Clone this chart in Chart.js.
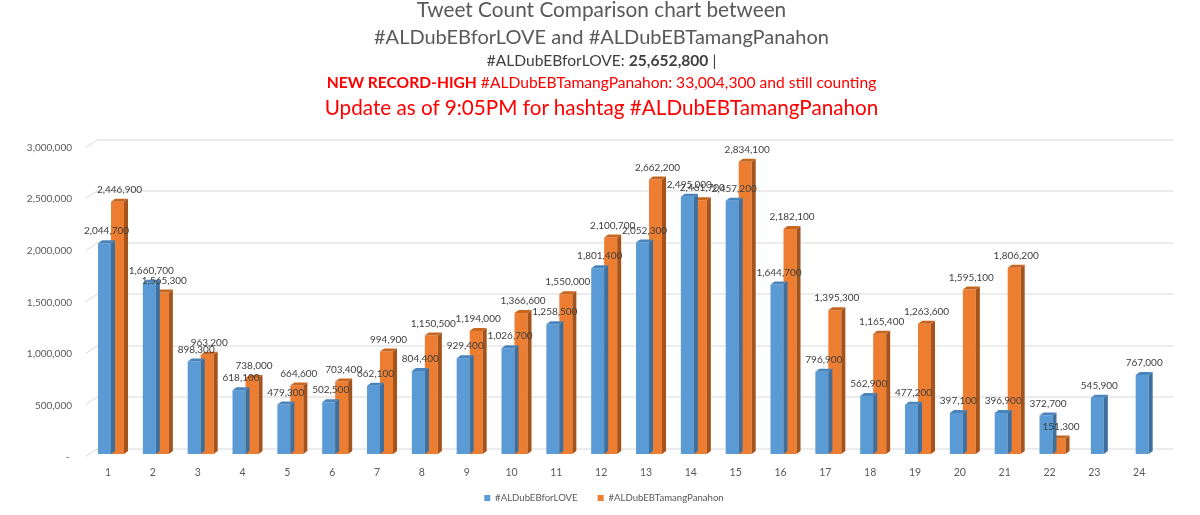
<!DOCTYPE html>
<html>
<head>
<meta charset="utf-8">
<script src="https://cdn.jsdelivr.net/npm/chart.js@4.4.1/dist/chart.umd.min.js"></script>
<style>
html,body{margin:0;padding:0;background:#fff;width:1200px;height:515px;overflow:hidden;}
#wrap{position:relative;width:1200px;height:515px;}
#c{position:absolute;left:0;top:0;width:1200px;height:515px;}
.h{position:absolute;left:0;width:1203px;text-align:center;font-family:Lato,"Open Sans",sans-serif;white-space:nowrap;line-height:1;}
</style>
</head>
<body>
<div id="wrap">
<canvas id="c" width="1200" height="515"></canvas>
<div class="h" style="top:-1.5px;font-size:20.8px;color:#595959">Tweet Count Comparison chart between</div>
<div class="h" style="top:26px;font-size:20px;color:#595959">#ALDubEBforLOVE and #ALDubEBTamangPanahon</div>
<div class="h" style="top:52.5px;font-size:15.6px;color:#404040">#ALDubEBforLOVE: <b>25,652,800</b> |</div>
<div class="h" style="top:74.5px;font-size:15.6px;color:#ff0000"><b>NEW RECORD-HIGH</b> #ALDubEBTamangPanahon: 33,004,300 and still counting</div>
<div class="h" style="top:96.5px;font-size:20.7px;color:#ff0000">Update as of 9:05PM for hashtag #ALDubEBTamangPanahon</div>
</div>
<script>
const categories = ["1","2","3","4","5","6","7","8","9","10","11","12","13","14","15","16","17","18","19","20","21","22","23","24"];
const seriesNames = ["#ALDubEBforLOVE", "#ALDubEBTamangPanahon"];
const forLove = [2044700,1660700,898300,618100,479300,502500,662100,804400,929400,1026700,1258500,1801400,2052300,2495000,2457200,1644700,796900,562900,477200,397100,396900,372700,545900,767000];
const tamangPanahon = [2446900,1565300,963200,738000,664600,703400,994900,1150500,1194000,1366600,1550000,2100700,2662200,2461700,2834100,2182100,1395300,1165400,1263600,1595100,1806200,151300,null,null];
const yTicks = [0,500000,1000000,1500000,2000000,2500000,3000000];

const fmt = v => v.toLocaleString('en-US');
const frontColors = ['#5B9BD5', '#ED7D31'];
const sideColors = ['#3D6F9F', '#A5531A'];
const topColors = ['#4A84BD', '#C7661F'];

// let tick labels draw outside the narrow scale boxes (no clipping)
const unclipLabels = {
  id: 'unclipLabels',
  afterLayout(chart) {
    chart.scales.y.left = 0;
    chart.scales.x.bottom = chart.height;
  }
};

// back-wall gridlines (3D look)
const wallGrid = {
  id: 'wallGrid',
  beforeDatasetsDraw(chart) {
    const ctx = chart.ctx, a = chart.chartArea, ys = chart.scales.y;
    ctx.save();
    ctx.strokeStyle = '#D9D9D9';
    ctx.lineWidth = 1;
    yTicks.forEach(v => {
      const y = Math.round(ys.getPixelForValue(v)) + 0.5;
      ctx.beginPath();
      ctx.moveTo(a.left - 3, y + 2);
      ctx.lineTo(a.left + 8.5, y - 5.5);
      ctx.lineTo(a.right + 9, y - 5.5);
      ctx.stroke();
    });
    ctx.restore();
  }
};

const depth3d = {
  id: 'depth3d',
  afterDatasetDraw(chart, args) {
    const i = args.index, meta = args.meta;
    const ds = chart.data.datasets[i];
    const ctx = chart.ctx, dx = 4, dy = 3;
    ctx.save();
    meta.data.forEach((bar, j) => {
      if (ds.data[j] == null) return;
      const p = bar.getProps(['x','y','base','width'], true);
      const l = p.x - p.width/2, r = p.x + p.width/2;
      ctx.fillStyle = sideColors[i];
      ctx.beginPath();
      ctx.moveTo(r, p.y); ctx.lineTo(r+dx, p.y-dy); ctx.lineTo(r+dx, p.base-dy); ctx.lineTo(r, p.base);
      ctx.closePath(); ctx.fill();
      ctx.fillStyle = topColors[i];
      ctx.beginPath();
      ctx.moveTo(l, p.y); ctx.lineTo(l+dx, p.y-dy); ctx.lineTo(r+dx, p.y-dy); ctx.lineTo(r, p.y);
      ctx.closePath(); ctx.fill();
    });
    ctx.restore();
  }
};

const valueLabels = {
  id: 'valueLabels',
  afterDatasetsDraw(chart) {
    const ctx = chart.ctx;
    ctx.save();
    ctx.font = '10px Lato';
    ctx.fillStyle = '#404040';
    ctx.textAlign = 'center';
    ctx.textBaseline = 'middle';
    chart.data.datasets.forEach((ds, i) => {
      const meta = chart.getDatasetMeta(i);
      meta.data.forEach((bar, j) => {
        const v = ds.data[j];
        if (v == null) return;
        ctx.fillText(fmt(v), bar.x + 2, bar.y - 12);
      });
    });
    ctx.restore();
  }
};

new Chart(document.getElementById('c'), {
  type: 'bar',
  data: {
    labels: categories,
    datasets: [
      { label: seriesNames[0], data: forLove, backgroundColor: frontColors[0] },
      { label: seriesNames[1], data: tamangPanahon, backgroundColor: frontColors[1] }
    ]
  },
  options: {
    responsive: false,
    animation: false,
    devicePixelRatio: 1,
    skipNull: true,
    categoryPercentage: 0.58,
    barPercentage: 1.0,
    maxBarThickness: 13,
    layout: { padding: { left: 43.4, right: 35.4, top: 144.7, bottom: 2.2 } },
    plugins: {
      title: { display: false },
      tooltip: { enabled: false },
      legend: {
        position: 'bottom',
        labels: {
          boxWidth: 6, boxHeight: 6, padding: 20,
          color: '#595959',
          font: { family: 'Lato', size: 9.6 }
        }
      }
    },
    scales: {
      x: {
        grid: { display: false, drawTicks: false },
        border: { display: false },
        ticks: { color: '#595959', font: { family: 'Lato', size: 10.5 }, padding: 12, labelOffset: -3 },
        afterFit(s) { s.height = 19.2; }
      },
      y: {
        min: 0, max: 3000000,
        afterBuildTicks(s) { s.ticks = yTicks.map(v => ({ value: v })); },
        grid: { display: false, drawTicks: false },
        border: { display: false },
        ticks: {
          color: '#595959', font: { family: 'Lato', size: 10 }, padding: 16.6, labelOffset: 3,
          callback: v => v === 0 ? '- ' : fmt(v)
        },
        afterFit(s) { s.width = 45.2; }
      }
    }
  },
  plugins: [unclipLabels, wallGrid, depth3d, valueLabels]
});
</script>
</body>
</html>
